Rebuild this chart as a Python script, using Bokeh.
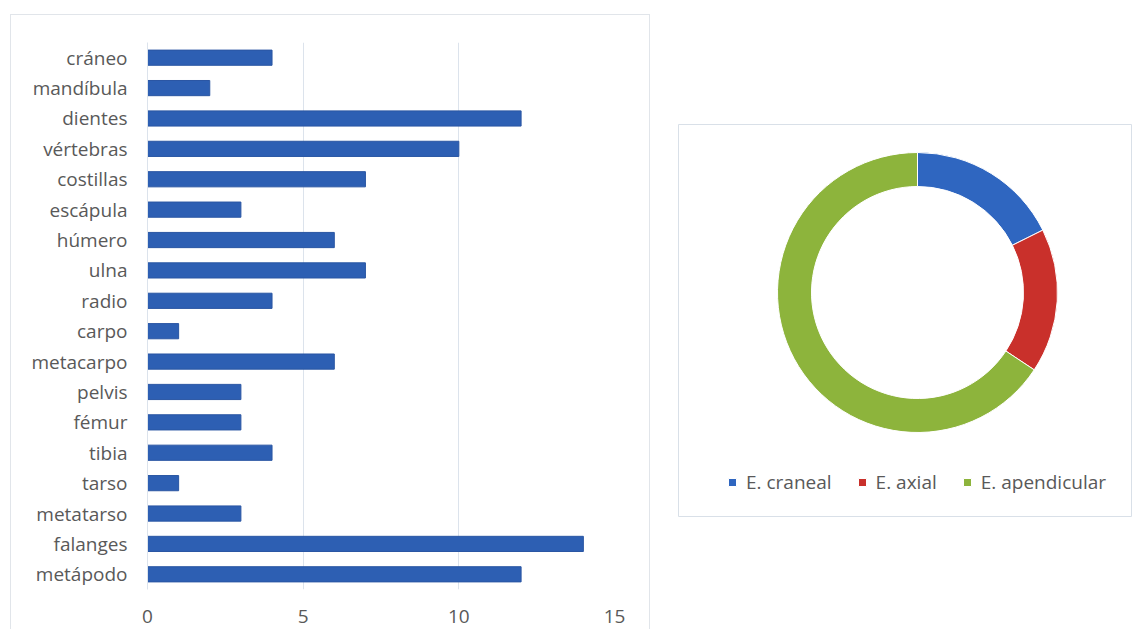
import math
from bokeh.plotting import figure
from bokeh.models import FactorRange, Range1d, FixedTicker, Legend, LegendItem, Spacer
from bokeh.layouts import row, column
from bokeh.embed import file_html
from bokeh.resources import INLINE

# ---- data ----
bones = ["cráneo", "mandíbula", "dientes", "vértebras", "costillas", "escápula",
         "húmero", "ulna", "radio", "carpo", "metacarpo", "pelvis", "fémur",
         "tibia", "tarso", "metatarso", "falanges", "metápodo"]
counts = [4, 2, 12, 10, 7, 3, 6, 7, 4, 1, 6, 3, 3, 4, 1, 3, 14, 12]
x_ticks = [0, 5, 10, 15]

regions = ["E. craneal", "E. axial", "E. apendicular"]
region_totals = [18, 17, 67]
region_colors = ["#2F66C0", "#C9302B", "#8DB43C"]

FONT = "Open Sans"
TXT = "#595959"

# ---- bar chart ----
p = figure(output_backend="svg", toolbar_location=None,
           y_range=FactorRange(factors=bones[::-1]), x_range=Range1d(0, 15),
           frame_width=465, frame_height=546,
           min_border_left=136, min_border_right=37, min_border_top=27, min_border_bottom=41)
p.hbar(y=bones, right=counts, left=0, height=0.5, fill_color="#2D5FB3",
       line_color="#2A56A3", line_width=1)
p.outline_line_color = None
p.ygrid.grid_line_color = None
p.xgrid.grid_line_color = "#DCE3EC"
p.xgrid.ticker = FixedTicker(ticks=x_ticks)
p.xaxis.ticker = FixedTicker(ticks=x_ticks)
p.xaxis.axis_line_color = None
p.xaxis.major_tick_line_color = None
p.xaxis.minor_tick_line_color = None
p.xaxis.major_label_standoff = 14
p.yaxis.axis_line_color = "#DCE3EC"
p.yaxis.major_tick_line_color = None
p.yaxis.major_label_standoff = 14
for ax in (p.xaxis, p.yaxis):
    ax.major_label_text_font = FONT
    ax.major_label_text_font_size = "19px"
    ax.major_label_text_color = TXT
p.styles = {"border-top": "1px solid #E1E5EA", "border-left": "1px solid #E1E5EA",
            "border-right": "1px solid #E1E5EA", "box-sizing": "border-box"}

# ---- donut chart ----
W, H = 454, 393
d = figure(width=W, height=H, output_backend="svg", toolbar_location=None,
           x_range=Range1d(0, W), y_range=Range1d(0, H),
           x_axis_type=None, y_axis_type=None, min_border=0)
d.grid.visible = False
d.outline_line_color = "#D9E0E8"

total = sum(region_totals)
starts, ends = [], []
cum = 0.0
for v in region_totals:
    starts.append(math.pi / 2 - 2 * math.pi * cum / total)
    cum += v
    ends.append(math.pi / 2 - 2 * math.pi * cum / total)
wr = d.annular_wedge(x=239, y=225, inner_radius=106, outer_radius=140,
                     inner_radius_units="screen", outer_radius_units="screen",
                     start_angle=starts, end_angle=ends, direction="clock",
                     fill_color=region_colors, line_color="white", line_width=1)

items = [LegendItem(label=name, renderers=[wr], index=i) for i, name in enumerate(regions)]
leg = Legend(items=items, orientation="horizontal", location=(49, 22),
             glyph_width=10, glyph_height=10, label_standoff=9, spacing=25,
             padding=0, margin=0, border_line_color=None, background_fill_alpha=0,
             label_text_font=FONT, label_text_font_size="19px", label_text_color=TXT)
d.add_layout(leg)

layout = row(p, Spacer(width=28), column(Spacer(height=110), d))
layout.styles = {"padding-left": "10px", "padding-top": "14px"}

open("out.html", "w").write(file_html(layout, INLINE))
